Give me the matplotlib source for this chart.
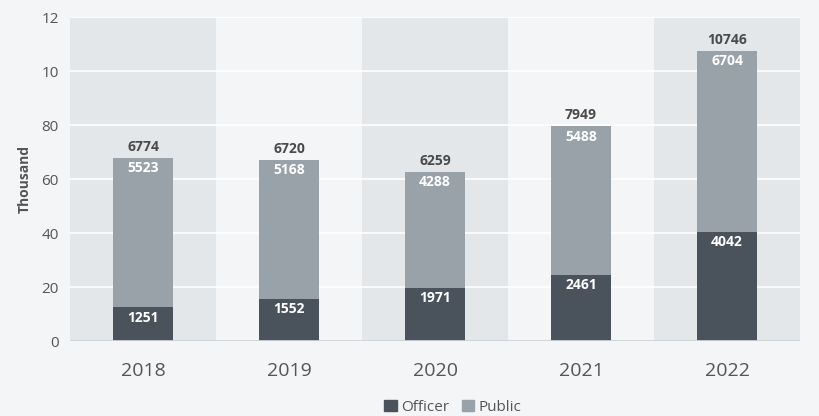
import matplotlib.pyplot as plt
import numpy as np
from matplotlib.patches import Patch

years = ['2018', '2019', '2020', '2021', '2022']
officer = [1251, 1552, 1971, 2461, 4042]
public = [5523, 5168, 4288, 5488, 6704]
totals = [6774, 6720, 6259, 7949, 10746]
ytick_labels = ['0', '20', '40', '60', '80', '10', '12']

plt.rcParams['font.family'] = ['Open Sans', 'DejaVu Sans']

bg = '#f4f5f7'
band = '#e4e7ea'
c_off = '#4a535c'
c_pub = '#98a2a8'

fig = plt.figure(figsize=(8.19, 4.16), dpi=100, facecolor=bg)
ax = fig.add_axes([0.0855, 0.18, 0.8915, 0.779])
ax.set_facecolor(bg)

x = np.arange(len(years))
off = np.array(officer) / 100
pub = np.array(public) / 100

for i in x:
    if i % 2 == 0:
        ax.axvspan(i - 0.5, i + 0.5, color=band, lw=0, zorder=0)

for yv in range(20, 121, 20):
    ax.axhline(yv, color='white', lw=1.2, zorder=1)

w = 0.41
ax.bar(x, off, w, color=c_off, zorder=2)
ax.bar(x, pub, w, bottom=off, color=c_pub, zorder=2)

for i in x:
    ax.text(i, off[i] - 1.2, str(officer[i]), ha='center', va='top',
            color='white', fontsize=10, fontweight='bold', zorder=3)
    ax.text(i, off[i] + pub[i] - 1.2, str(public[i]), ha='center', va='top',
            color='white', fontsize=10, fontweight='bold', zorder=3)
    ax.text(i, off[i] + pub[i] + 1.5, str(totals[i]), ha='center', va='bottom',
            color='#4a4a4a', fontsize=10, fontweight='bold', zorder=3)

ax.axhline(0, color='#cdd2d7', lw=2, zorder=3)

ax.set_xlim(-0.5, len(years) - 0.5)
ax.set_ylim(0, 120)
ax.set_yticks(range(0, 121, 20))
ax.set_yticklabels(ytick_labels)
ax.set_xticks(x)
ax.set_xticklabels(years)
ax.tick_params(axis='y', length=0, labelsize=11, colors='#555555', pad=8)
ax.tick_params(axis='x', length=0, labelsize=14, colors='#555555', pad=15)
for s in ax.spines.values():
    s.set_visible(False)
ax.set_ylabel('Thousand', fontsize=10, fontweight='bold', color='#555555', labelpad=7)

handles = [Patch(color=c_off, label='Officer'), Patch(color=c_pub, label='Public')]
fig.legend(handles=handles, loc='lower center', bbox_to_anchor=(0.553, -0.03), ncol=2,
           frameon=False, fontsize=11, handlelength=0.8, handleheight=0.8,
           handletextpad=0.3, columnspacing=0.8, labelcolor='#555555')

fig.savefig('out.png', dpi=100, facecolor=bg)
